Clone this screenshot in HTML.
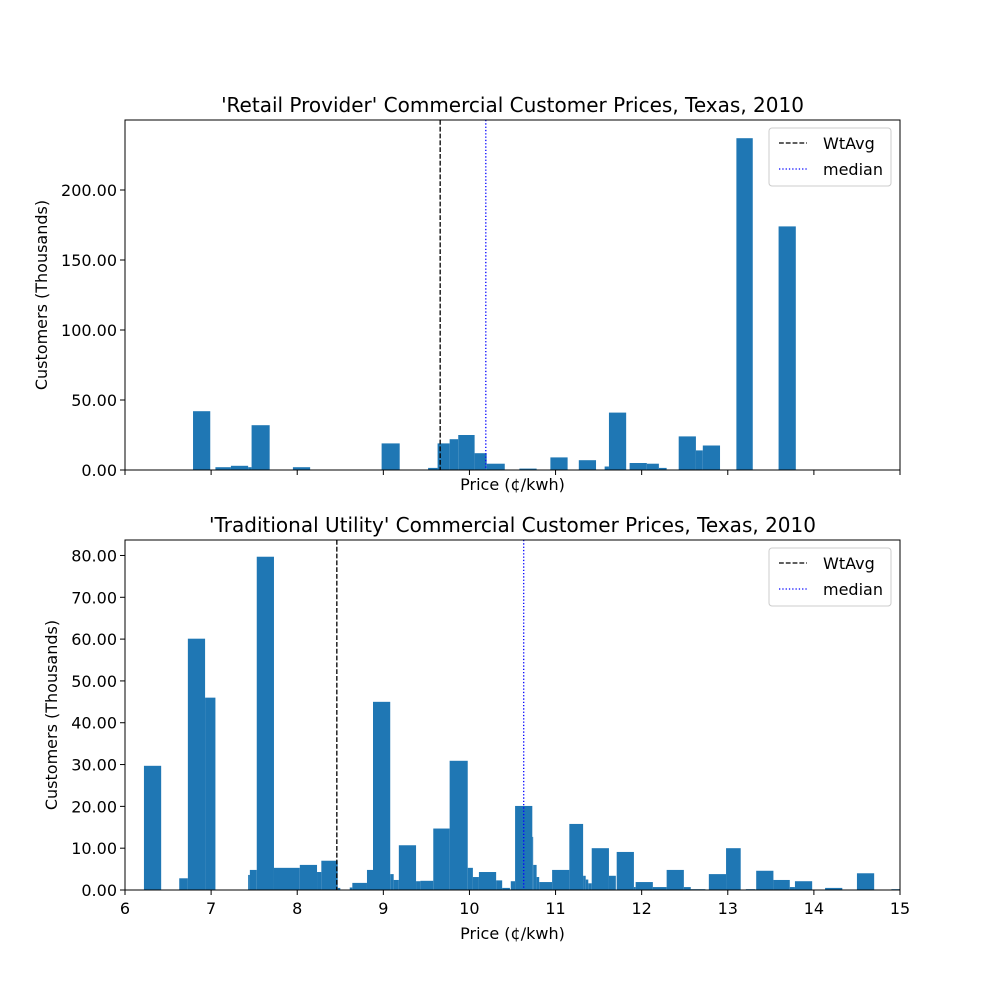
<!DOCTYPE html>
<html><head><meta charset="utf-8"><style>
body{margin:0;background:#fff}
svg text{font-family:"DejaVu Sans","Liberation Sans",sans-serif;fill:#000}
</style></head><body>
<svg id="fig" width="1000" height="1000" xmlns="http://www.w3.org/2000/svg"></svg>
<script>
// Top chart data: bin start, bin end (price ¢/kwh), customers (thousands)
const retailStart=[6.79,7.05,7.23,7.43,7.47,7.95,8.98,9.52,9.63,9.77,9.87,10.06,10.20,10.58,10.94,11.27,11.57,11.62,11.86,12.06,12.20,12.43,12.63,12.71,13.10,13.59];
const retailEnd=[6.99,7.23,7.43,7.47,7.68,8.15,9.19,9.63,9.77,9.87,10.06,10.20,10.41,10.78,11.14,11.47,11.62,11.82,12.06,12.20,12.29,12.63,12.71,12.91,13.29,13.79];
const retailValues=[42,2,3,2,32,2,19,1.5,19,22,25,12,4.5,1,9,7,2.5,41,5,4.5,1.5,24,14,17.5,237,174];
const retailWtAvg=9.66, retailMedian=10.19;
// Bottom chart data
const utilStart=[6.22,6.63,6.73,6.93,7.43,7.45,7.53,7.73,8.03,8.23,8.28,8.47,8.61,8.64,8.81,8.88,9.08,9.12,9.18,9.38,9.43,9.58,9.77,9.98,10.04,10.11,10.31,10.38,10.48,10.53,10.73,10.74,10.78,10.81,10.96,11.16,11.32,11.35,11.38,11.42,11.62,11.71,11.91,11.93,12.13,12.29,12.49,12.57,12.78,12.98,13.21,13.33,13.53,13.72,13.78,14.13,14.50,14.90];
const utilEnd=[6.42,6.73,6.93,7.05,7.45,7.53,7.73,8.03,8.23,8.28,8.47,8.50,8.64,8.81,8.88,9.08,9.12,9.18,9.38,9.43,9.58,9.77,9.98,10.04,10.11,10.31,10.38,10.47,10.53,10.73,10.74,10.78,10.81,10.96,11.16,11.32,11.35,11.38,11.42,11.62,11.70,11.91,11.93,12.13,12.29,12.49,12.57,12.74,12.98,13.15,13.32,13.53,13.72,13.78,13.98,14.33,14.70,15.00];
const utilValues=[29.7,2.8,60.1,46,3.6,4.8,79.7,5.3,6.0,4.3,7.0,0.5,0.6,1.7,4.8,45,3.8,2.4,10.7,2.1,2.2,14.7,30.9,5.3,3.1,4.3,2.3,0.5,2.1,20.1,12.7,6.0,3.1,1.9,4.8,15.8,3.4,2.5,1.6,10.0,3.4,9.1,0.7,1.9,0.7,4.8,0.7,0.2,3.8,10.0,0.2,4.6,2.4,0.7,2.1,0.5,4.0,0.2];
const utilWtAvg=8.46, utilMedian=10.63;
const xTicks=[6,7,8,9,10,11,12,13,14,15];
const retailYTicks=[0,50,100,150,200];
const utilYTicks=[0,10,20,30,40,50,60,70,80];

const NS="http://www.w3.org/2000/svg";
const svg=document.getElementById('fig');
function mk(tag,attrs,parent,text){const e=document.createElementNS(NS,tag);for(const k in attrs)e.setAttribute(k,attrs[k]);if(text!==undefined)e.textContent=text;(parent||svg).appendChild(e);return e;}

function panel(o){
  const L=125,R=900,T=o.top,B=o.top+350;
  const xs=v=>L+(v-6)/(15-6)*(R-L);
  const ys=v=>B-v/o.ymax*(B-T);
  const g=mk('g',{});
  
  
  for(let i=0;i<o.vals.length;i++){
    const x0=xs(o.s[i]),x1=xs(o.e[i]),y=ys(o.vals[i]);
    const r=mk('rect',{x:x0,y:y,width:Math.max(x1-x0,0.5),height:B-y,fill:'#1f77b4'},g);
    
    
  }
  const wl=mk('line',{x1:xs(o.wt),x2:xs(o.wt),y1:T,y2:B,stroke:'#000','stroke-width':1.3,'stroke-dasharray':'4.8,2'},g);
  
  
  const ml=mk('line',{x1:xs(o.med),x2:xs(o.med),y1:T,y2:B,stroke:'#00f','stroke-width':1.3,'stroke-dasharray':'1.3,2'},g);
  
  
  mk('rect',{x:L,y:T,width:R-L,height:B-T,fill:'none',stroke:'#000','stroke-width':1},g);
  xTicks.forEach(t=>{
    mk('line',{x1:xs(t),x2:xs(t),y1:B,y2:B+5,stroke:'#000'},g);
    if(o.xlabels){const tl=mk('text',{x:xs(t),y:B+24,'text-anchor':'middle','font-size':16},g,String(t));
      
      }
  });
  o.yt.forEach(t=>{
    mk('line',{x1:L-5,x2:L,y1:ys(t),y2:ys(t),stroke:'#000'},g);
    const tl=mk('text',{x:L-8,y:ys(t)+6,'text-anchor':'end','font-size':16},g,t.toFixed(2));
    
    
  });
  const ti=mk('text',{x:(L+R)/2,y:T-8,'text-anchor':'middle','font-size':20},g,o.title);
  
  
  const xl=mk('text',{x:(L+R)/2,y:B+(o.xlabels?49:20),'text-anchor':'middle','font-size':16},g,'Price (¢/kwh)');
  
  
  const yl=mk('text',{x:0,y:0,'text-anchor':'middle','font-size':16,transform:`translate(${o.ylx},${(T+B)/2}) rotate(-90)`},g,'Customers (Thousands)');
  
  
  const lg=mk('g',{},g);
  
  
  mk('rect',{x:769,y:T+8,width:122,height:58,rx:3,fill:'#fff',stroke:'#ccc'},lg);
  mk('line',{x1:779,x2:807,y1:T+23,y2:T+23,stroke:'#000','stroke-width':1.3,'stroke-dasharray':'4.8,2'},lg);
  mk('text',{x:823,y:T+29,'font-size':16},lg,'WtAvg');
  mk('line',{x1:779,x2:807,y1:T+49,y2:T+49,stroke:'#00f','stroke-width':1.3,'stroke-dasharray':'1.3,2'},lg);
  mk('text',{x:823,y:T+55,'font-size':16},lg,'median');
}
panel({name:'retail-chart',top:120,ymax:250,s:retailStart,e:retailEnd,vals:retailValues,wt:retailWtAvg,med:retailMedian,yt:retailYTicks,xlabels:false,ylx:47,title:"'Retail Provider' Commercial Customer Prices, Texas, 2010"});
panel({name:'utility-chart',top:540,ymax:83.7,s:utilStart,e:utilEnd,vals:utilValues,wt:utilWtAvg,med:utilMedian,yt:utilYTicks,xlabels:true,ylx:57,title:"'Traditional Utility' Commercial Customer Prices, Texas, 2010"});
</script>
</body></html>
